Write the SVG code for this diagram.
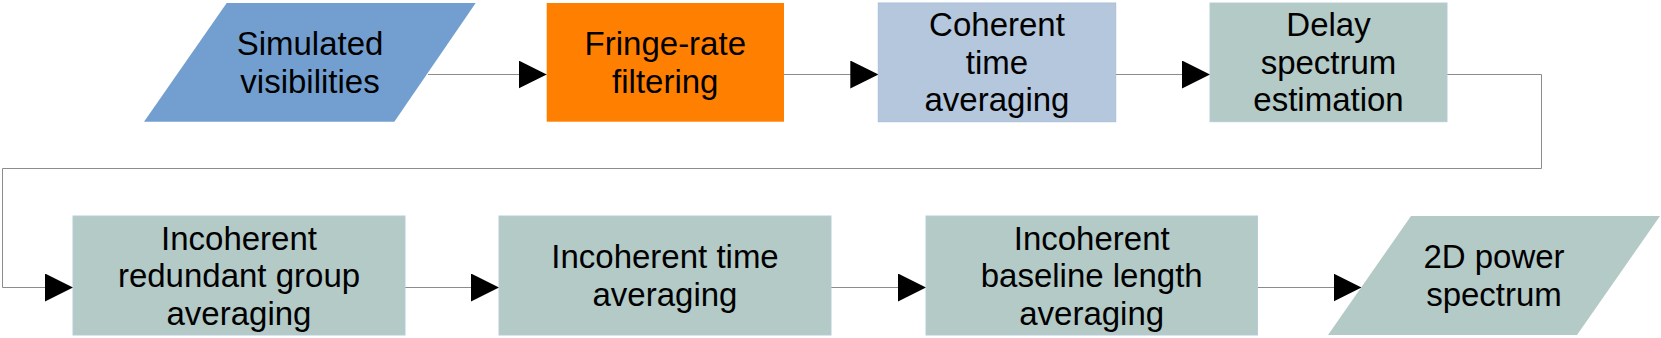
<svg xmlns="http://www.w3.org/2000/svg" width="1661" height="338" viewBox="0 0 1661 338">
  <defs>
    <marker id="arr" markerUnits="userSpaceOnUse" markerWidth="28" markerHeight="28" refX="28" refY="14" orient="auto" viewBox="0 0 28 28">
      <path d="M0,0 L28,14 L0,28 Z" fill="#000"/>
    </marker>
    <style>
      .t { font-family: "Liberation Sans", Arial, sans-serif; font-size: 33px; fill: #000; text-anchor: middle; }
      .c { fill: none; stroke: #8c8c8c; stroke-width: 1; }
      .blue { fill: #729fcf; }
      .orange { fill: #ff8000; }
      .lblue { fill: #b4c7dc; stroke: #a9bfd8; stroke-width: 1; }
      .teal { fill: #b3cac7; stroke: #b7cbd9; stroke-width: 1; }
      .tealp { fill: #b3cac7; }
    </style>
  </defs>
  <rect width="1661" height="338" fill="#fff"/>

  <g id="connectors">
    <path class="c" d="M428,74.5 H546.7" marker-end="url(#arr)"/>
    <path class="c" d="M784,74.5 H878.3" marker-end="url(#arr)"/>
    <path class="c" d="M1115.7,74.5 H1210" marker-end="url(#arr)"/>
    <path class="c" d="M1447,74.5 H1541.5 V168.5 H2.5 V287.5 H73" marker-end="url(#arr)"/>
    <path class="c" d="M405,287.5 H499" marker-end="url(#arr)"/>
    <path class="c" d="M831,287.5 H926" marker-end="url(#arr)"/>
    <path class="c" d="M1257.5,287.5 H1361.5" marker-end="url(#arr)"/>
  </g>

  <g id="simulated-visibilities">
    <polygon class="blue" points="226.7,3 475.7,3 394.3,121.7 144,121.7"/>
    <text class="t" x="310" y="55">Simulated</text>
    <text class="t" x="310" y="92.5">visibilities</text>
  </g>

  <g id="fringe-rate-filtering">
    <rect class="orange" x="546.7" y="3" width="237.3" height="118.7"/>
    <text class="t" x="665.3" y="55">Fringe-rate</text>
    <text class="t" x="665.3" y="92.5">filtering</text>
  </g>

  <g id="coherent-time-averaging">
    <rect class="lblue" x="878.3" y="3" width="237.4" height="118.7"/>
    <text class="t" x="997" y="36">Coherent</text>
    <text class="t" x="997" y="73.5">time</text>
    <text class="t" x="997" y="111">averaging</text>
  </g>

  <g id="delay-spectrum-estimation">
    <rect class="teal" x="1210" y="3" width="237" height="118.7"/>
    <text class="t" x="1328.5" y="36">Delay</text>
    <text class="t" x="1328.5" y="73.5">spectrum</text>
    <text class="t" x="1328.5" y="111">estimation</text>
  </g>

  <g id="incoherent-redundant-group-averaging">
    <rect class="teal" x="73" y="216" width="332" height="119"/>
    <text class="t" x="239" y="249.5">Incoherent</text>
    <text class="t" x="239" y="287">redundant group</text>
    <text class="t" x="239" y="324.5">averaging</text>
  </g>

  <g id="incoherent-time-averaging">
    <rect class="teal" x="499" y="216" width="332" height="119"/>
    <text class="t" x="665" y="268">Incoherent time</text>
    <text class="t" x="665" y="305.5">averaging</text>
  </g>

  <g id="incoherent-baseline-length-averaging">
    <rect class="teal" x="926" y="216" width="331.5" height="119"/>
    <text class="t" x="1091.7" y="249.5">Incoherent</text>
    <text class="t" x="1091.7" y="287">baseline length</text>
    <text class="t" x="1091.7" y="324.5">averaging</text>
  </g>

  <g id="power-spectrum-2d">
    <polygon class="tealp" points="1411,216 1660,216 1577,335 1328,335"/>
    <text class="t" x="1494" y="268">2D power</text>
    <text class="t" x="1494" y="305.5">spectrum</text>
  </g>
</svg>
